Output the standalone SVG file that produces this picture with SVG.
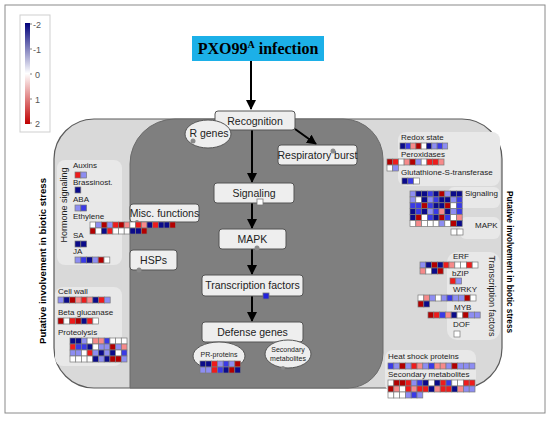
<svg xmlns="http://www.w3.org/2000/svg" width="550" height="422" viewBox="0 0 550 422">
<style>
text{font-family:"Liberation Sans",Arial,sans-serif;fill:#222}
.nd{fill:#eeeeee;stroke:#555;stroke-width:1}
.nt{font-size:10.5px;text-anchor:middle}
.sm{font-size:8px}
.sub{fill:#e8e8e8}
.c{stroke:#7a7a7a;stroke-width:0.7}
.n{fill:#0b0b8a}.b{fill:#3a3ae6}.l{fill:#8d8df2}.w{fill:#ffffff}.p{fill:#f78a8a}.r{fill:#ee1c1c}.d{fill:#b30000}
.dot{fill:#8a8a8a}
.ar{stroke:#000;stroke-width:2;fill:none;marker-end:url(#ah)}
.vt{font-size:9.5px;font-weight:bold;text-anchor:middle;fill:#000}
</style>
<defs>
<marker id="ah" viewBox="0 0 10 10" refX="9" refY="5" markerWidth="5" markerHeight="5" orient="auto" markerUnits="strokeWidth">
<path d="M0,0 L10,5 L0,10 Z" fill="#000"/>
</marker>
<linearGradient id="lg" x1="0" y1="0" x2="0" y2="1">
<stop offset="0" stop-color="#00007a"/>
<stop offset="0.5" stop-color="#ffffff"/>
<stop offset="1" stop-color="#c00000"/>
</linearGradient>
</defs>
<rect x="0" y="0" width="550" height="422" fill="#fff"/>
<rect x="5" y="5" width="540" height="408" fill="#fff" stroke="#8a8a8a" stroke-width="1"/>

<g id="legend">
<rect x="20" y="15" width="30" height="117" fill="#fff" stroke="#cfcfcf"/>
<rect x="25" y="23" width="5" height="101" fill="url(#lg)"/>
<g stroke="#666" stroke-width="0.8"><line x1="30" y1="24" x2="32" y2="24"/><line x1="30" y1="49" x2="32" y2="49"/><line x1="30" y1="74" x2="32" y2="74"/><line x1="30" y1="99" x2="32" y2="99"/><line x1="30" y1="123" x2="32" y2="123"/></g>
<g font-size="9" style="fill:#555"><text x="33" y="28" style="fill:#555">-2</text><text x="33" y="53" style="fill:#555">-1</text><text x="35" y="78" style="fill:#555">0</text><text x="35" y="103" style="fill:#555">1</text><text x="35" y="127" style="fill:#555">2</text></g>
</g>

<g id="title">
<rect x="192" y="36" width="132" height="25" fill="#1cb0e8"/>
<text x="258" y="54" text-anchor="middle" style="font-family:'Liberation Serif','Times New Roman',serif;font-weight:bold;font-size:16px;fill:#000">PXO99<tspan font-size="10" dy="-6">A</tspan><tspan dy="6"> infection</tspan></text>
</g>

<g id="panels">
<rect x="54" y="119" width="448" height="269" rx="40" fill="#d9d9d9" stroke="#5a5a5a" stroke-width="1.2"/>
<path d="M130,388 V164 A45,45 0 0 1 175,119 H343 A40,40 0 0 1 383,159 V353 A35,35 0 0 1 348,388 Z" fill="#7f7f7f" stroke="#6a6a6a"/>
<rect class="sub" x="57" y="160" width="65" height="105" rx="8"/>
<rect class="sub" x="55" y="287" width="67" height="79" rx="8"/>
<rect class="sub" x="398" y="132" width="102" height="54" rx="8"/>
<rect class="sub" x="448" y="187" width="52" height="21" rx="6"/>
<rect class="sub" x="460" y="217" width="40" height="22" rx="6"/>
<rect class="sub" x="447" y="252" width="53" height="88" rx="10"/>
<rect class="sub" x="385" y="350" width="91" height="42" rx="8"/>
</g>

<g id="side-labels">
<text class="vt" transform="translate(46,261) rotate(-90)" textLength="166" lengthAdjust="spacingAndGlyphs">Putative involvement in biotic stress</text>
<text class="vt" transform="translate(507,262) rotate(90)" textLength="142" lengthAdjust="spacingAndGlyphs">Putative involvement in biotic stress</text>
<text font-size="9" text-anchor="middle" transform="translate(67,205) rotate(-90)">Hormone signaling</text>
<text font-size="9" text-anchor="middle" transform="translate(489,296) rotate(90)">Transcription factors</text>
</g>

<g id="connectors">
<line class="ar" x1="251" y1="61" x2="251" y2="109"/>
<line class="ar" x1="252" y1="130" x2="252" y2="182"/>
<line class="ar" x1="295" y1="129" x2="316" y2="144"/>
<line class="ar" x1="252" y1="203" x2="252" y2="228"/>
<line class="ar" x1="252" y1="249" x2="252" y2="274"/>
<line class="ar" x1="252" y1="296" x2="252" y2="321"/>
</g>

<g id="recognition"><rect class="nd" x="215" y="111" width="80" height="19" rx="3"/><text class="nt" x="255" y="124.5">Recognition</text></g>
<g id="r-genes"><ellipse cx="208" cy="134" rx="23" ry="14" fill="#eeeeee" stroke="#555"/><text class="nt" x="209" y="137">R genes</text><circle class="dot" cx="193" cy="141" r="2.5"/></g>
<g id="respiratory-burst"><rect class="nd" x="278" y="145" width="79" height="20" rx="3"/><text class="nt" x="317.5" y="159">Respiratory burst</text><circle class="dot" cx="333" cy="151" r="2.5"/></g>
<g id="signaling"><rect class="nd" x="214" y="183" width="80" height="20" rx="3"/><text class="nt" x="254" y="197">Signaling</text><rect x="257" y="199" width="6" height="6" fill="#fff" stroke="#777" stroke-width="0.8"/></g>
<g id="mapk"><rect class="nd" x="219" y="229" width="67" height="20" rx="3"/><text class="nt" x="252.5" y="243">MAPK</text><circle class="dot" cx="257" cy="248" r="2.5"/></g>
<g id="transcription-factors"><rect class="nd" x="202" y="275" width="101" height="21" rx="3"/><text class="nt" x="252.5" y="289">Transcription factors</text><rect x="263" y="293" width="6" height="6" fill="#2222dd" stroke="#777" stroke-width="0.8"/></g>
<g id="defense-genes"><rect class="nd" x="202" y="322" width="101" height="20" rx="3"/><text class="nt" x="252.5" y="336">Defense genes</text></g>
<g id="pr-proteins"><ellipse cx="219" cy="356" rx="26" ry="14" fill="#eeeeee" stroke="#555"/><text x="219" y="357" font-size="7" text-anchor="middle">PR-proteins</text>
<g transform="translate(200,361)" class="c"><rect class="n" x="0" y="0" width="5.8" height="6"/><rect class="n" x="5.8" y="0" width="5.8" height="6"/><rect class="r" x="11.6" y="0" width="5.8" height="6"/><rect class="l" x="17.4" y="0" width="5.8" height="6"/><rect class="b" x="23.2" y="0" width="5.8" height="6"/><rect class="l" x="29" y="0" width="5.8" height="6"/><rect class="d" x="34.8" y="0" width="5.8" height="6"/>
<rect class="l" x="0" y="6" width="5.8" height="6"/><rect class="l" x="5.8" y="6" width="5.8" height="6"/><rect class="r" x="11.6" y="6" width="5.8" height="6"/><rect class="b" x="17.4" y="6" width="5.8" height="6"/><rect class="n" x="23.2" y="6" width="5.8" height="6"/><rect class="d" x="29" y="6" width="5.8" height="6"/><rect class="n" x="34.8" y="6" width="5.8" height="6"/></g></g>
<g id="secondary-metabolites-node"><ellipse cx="288" cy="354" rx="23" ry="14" fill="#eeeeee" stroke="#555"/><text x="288" y="352" font-size="7" text-anchor="middle">Secondary</text><text x="288" y="361" font-size="7" text-anchor="middle">metabolites</text><circle class="dot" cx="283" cy="368" r="2"/></g>
<g id="misc-functions"><rect class="nd" x="130" y="204" width="69" height="18" rx="3"/><text class="nt" x="164.5" y="217">Misc. functions</text><circle class="dot" cx="137" cy="222" r="2"/></g>
<g id="hsps"><rect class="nd" x="130" y="250" width="47" height="20" rx="3"/><text class="nt" x="153.5" y="264">HSPs</text><circle class="dot" cx="139" cy="270" r="2.5"/></g>

<g id="hormone-signaling">
<text class="sm" x="73" y="168">Auxins</text>
<g transform="translate(75,172)" class="c"><rect class="r" x="0" y="0" width="5.8" height="6"/><rect class="l" x="5.8" y="0" width="5.8" height="6"/></g>
<text class="sm" x="73" y="185">Brassinost.</text>
<g transform="translate(75,187)" class="c"><rect class="n" x="0" y="0" width="5.8" height="6"/></g>
<text class="sm" x="73" y="202">ABA</text>
<g transform="translate(75,205)" class="c"><rect class="l" x="0" y="0" width="5.8" height="6"/><rect class="b" x="5.8" y="0" width="5.8" height="6"/></g>
<text class="sm" x="73" y="219">Ethylene</text>
<text class="sm" x="73" y="238">SA</text>
<g transform="translate(75,241)" class="c"><rect class="n" x="0" y="0" width="5.8" height="6"/><rect class="n" x="5.8" y="0" width="5.8" height="6"/></g>
<text class="sm" x="73" y="254">JA</text>
<g transform="translate(75,257)" class="c"><rect class="l" x="0" y="0" width="5.8" height="6"/><rect class="b" x="5.8" y="0" width="5.8" height="6"/><rect class="n" x="11.6" y="0" width="5.8" height="6"/><rect class="l" x="17.4" y="0" width="5.8" height="6"/><rect class="d" x="23.2" y="0" width="5.8" height="6"/><rect class="w" x="29" y="0" width="5.8" height="6"/></g>
<g transform="translate(90,222)" class="c"><rect class="w" x="0" y="0" width="5.7" height="6"/><rect class="l" x="5.7" y="0" width="5.7" height="6"/><rect class="d" x="11.4" y="0" width="5.7" height="6"/><rect class="l" x="17.1" y="0" width="5.7" height="6"/><rect class="r" x="22.8" y="0" width="5.7" height="6"/><rect class="d" x="28.5" y="0" width="5.7" height="6"/><rect class="p" x="34.2" y="0" width="5.7" height="6"/><rect class="w" x="39.9" y="0" width="5.7" height="6"/><rect class="r" x="45.6" y="0" width="5.7" height="6"/><rect class="p" x="51.3" y="0" width="5.7" height="6"/><rect class="n" x="57" y="0" width="5.7" height="6"/><rect class="r" x="62.7" y="0" width="5.7" height="6"/><rect class="n" x="68.4" y="0" width="5.7" height="6"/><rect class="n" x="74.1" y="0" width="5.7" height="6"/><rect class="d" x="79.8" y="0" width="5.7" height="6"/>
<rect class="d" x="0" y="6" width="5.7" height="6"/><rect class="w" x="5.7" y="6" width="5.7" height="6"/><rect class="n" x="11.4" y="6" width="5.7" height="6"/><rect class="r" x="17.1" y="6" width="5.7" height="6"/><rect class="w" x="22.8" y="6" width="5.7" height="6"/><rect class="w" x="28.5" y="6" width="5.7" height="6"/><rect class="w" x="34.2" y="6" width="5.7" height="6"/><rect class="n" x="39.9" y="6" width="5.7" height="6"/><rect class="n" x="45.6" y="6" width="5.7" height="6"/><rect class="d" x="51.3" y="6" width="5.7" height="6"/></g>
</g>

<g id="cell-wall">
<text class="sm" x="58" y="294">Cell wall</text>
<g transform="translate(58,297)" class="c"><rect class="l" x="0" y="0" width="5.8" height="6"/><rect class="n" x="5.8" y="0" width="5.8" height="6"/><rect class="d" x="11.6" y="0" width="5.8" height="6"/><rect class="p" x="17.4" y="0" width="5.8" height="6"/><rect class="r" x="23.2" y="0" width="5.8" height="6"/><rect class="p" x="29" y="0" width="5.8" height="6"/><rect class="n" x="34.8" y="0" width="5.8" height="6"/><rect class="r" x="40.6" y="0" width="5.8" height="6"/><rect class="l" x="46.4" y="0" width="5.8" height="6"/></g>
<text class="sm" x="58" y="315">Beta glucanase</text>
<g transform="translate(58,318)" class="c"><rect class="d" x="0" y="0" width="5.8" height="6"/><rect class="w" x="5.8" y="0" width="5.8" height="6"/><rect class="r" x="11.6" y="0" width="5.8" height="6"/><rect class="d" x="17.4" y="0" width="5.8" height="6"/><rect class="n" x="23.2" y="0" width="5.8" height="6"/><rect class="r" x="29" y="0" width="5.8" height="6"/><rect class="w" x="34.8" y="0" width="5.8" height="6"/></g>
<text class="sm" x="58" y="335">Proteolysis</text>
<g transform="translate(70,338)" class="c">
<rect class="n" x="0" y="0" width="5.7" height="6"/><rect class="n" x="5.7" y="0" width="5.7" height="6"/><rect class="l" x="11.4" y="0" width="5.7" height="6"/><rect class="w" x="17.1" y="0" width="5.7" height="6"/><rect class="p" x="22.8" y="0" width="5.7" height="6"/><rect class="p" x="28.5" y="0" width="5.7" height="6"/><rect class="b" x="34.2" y="0" width="5.7" height="6"/><rect class="w" x="39.9" y="0" width="5.7" height="6"/><rect class="w" x="45.6" y="0" width="5.7" height="6"/><rect class="w" x="51.3" y="0" width="5.7" height="6"/>
<rect class="r" x="0" y="6" width="5.7" height="6"/><rect class="b" x="5.7" y="6" width="5.7" height="6"/><rect class="b" x="11.4" y="6" width="5.7" height="6"/><rect class="n" x="17.1" y="6" width="5.7" height="6"/><rect class="w" x="22.8" y="6" width="5.7" height="6"/><rect class="l" x="28.5" y="6" width="5.7" height="6"/><rect class="l" x="34.2" y="6" width="5.7" height="6"/><rect class="d" x="39.9" y="6" width="5.7" height="6"/><rect class="l" x="45.6" y="6" width="5.7" height="6"/><rect class="p" x="51.3" y="6" width="5.7" height="6"/>
<rect class="l" x="0" y="12" width="5.7" height="6"/><rect class="l" x="5.7" y="12" width="5.7" height="6"/><rect class="w" x="11.4" y="12" width="5.7" height="6"/><rect class="r" x="17.1" y="12" width="5.7" height="6"/><rect class="l" x="22.8" y="12" width="5.7" height="6"/><rect class="n" x="28.5" y="12" width="5.7" height="6"/><rect class="l" x="34.2" y="12" width="5.7" height="6"/><rect class="n" x="39.9" y="12" width="5.7" height="6"/><rect class="w" x="45.6" y="12" width="5.7" height="6"/><rect class="b" x="51.3" y="12" width="5.7" height="6"/>
<rect class="w" x="0" y="18" width="5.7" height="6"/><rect class="w" x="5.7" y="18" width="5.7" height="6"/><rect class="w" x="11.4" y="18" width="5.7" height="6"/><rect class="w" x="17.1" y="18" width="5.7" height="6"/><rect class="n" x="22.8" y="18" width="5.7" height="6"/><rect class="l" x="28.5" y="18" width="5.7" height="6"/><rect class="n" x="34.2" y="18" width="5.7" height="6"/><rect class="d" x="39.9" y="18" width="5.7" height="6"/><rect class="d" x="45.6" y="18" width="5.7" height="6"/><rect class="l" x="51.3" y="18" width="5.7" height="6"/>
</g>
</g>

<g id="redox-state">
<text class="sm" x="401" y="140">Redox state</text>
<g transform="translate(400,143)" class="c"><rect class="n" x="0" y="0" width="5.3" height="6"/><rect class="b" x="5.3" y="0" width="5.3" height="6"/><rect class="p" x="10.6" y="0" width="5.3" height="6"/><rect class="d" x="15.9" y="0" width="5.3" height="6"/><rect class="w" x="21.2" y="0" width="5.3" height="6"/><rect class="n" x="26.5" y="0" width="5.3" height="6"/><rect class="l" x="31.8" y="0" width="5.3" height="6"/><rect class="b" x="37.1" y="0" width="5.3" height="6"/><rect class="l" x="42.4" y="0" width="5.3" height="6"/></g>
<text class="sm" x="401" y="157">Peroxidases</text>
<g transform="translate(387,159)" class="c"><rect class="d" x="0" y="0" width="5.7" height="6"/><rect class="r" x="5.7" y="0" width="5.7" height="6"/><rect class="w" x="11.4" y="0" width="5.7" height="6"/><rect class="p" x="17.1" y="0" width="5.7" height="6"/><rect class="d" x="22.8" y="0" width="5.7" height="6"/><rect class="l" x="28.5" y="0" width="5.7" height="6"/><rect class="w" x="34.2" y="0" width="5.7" height="6"/><rect class="r" x="39.9" y="0" width="5.7" height="6"/><rect class="r" x="45.6" y="0" width="5.7" height="6"/><rect class="p" x="51.3" y="0" width="5.7" height="6"/>
<rect class="w" x="0" y="6" width="5.7" height="6"/><rect class="l" x="5.7" y="6" width="5.7" height="6"/></g>
<text class="sm" x="401" y="175">Glutathione-S-transferase</text>
<g transform="translate(402,178)" class="c"><rect class="n" x="0" y="0" width="5.8" height="6"/><rect class="b" x="5.8" y="0" width="5.8" height="6"/><rect class="w" x="11.6" y="0" width="5.8" height="6"/></g>
</g>

<g id="signaling-mapk">
<text class="sm" x="465" y="196">Signaling</text>
<text class="sm" x="475" y="228">MAPK</text>
<g transform="translate(410,191)" class="c">
<rect class="l" x="0" y="0" width="5.8" height="5.9"/><rect class="n" x="5.8" y="0" width="5.8" height="5.9"/><rect class="n" x="11.6" y="0" width="5.8" height="5.9"/><rect class="b" x="17.4" y="0" width="5.8" height="5.9"/><rect class="n" x="23.2" y="0" width="5.8" height="5.9"/><rect class="d" x="29" y="0" width="5.8" height="5.9"/><rect class="l" x="34.8" y="0" width="5.8" height="5.9"/><rect class="n" x="40.6" y="0" width="5.8" height="5.9"/><rect class="n" x="46.4" y="0" width="5.8" height="5.9"/>
<rect class="l" x="0" y="5.9" width="5.8" height="5.9"/><rect class="w" x="5.8" y="5.9" width="5.8" height="5.9"/><rect class="n" x="11.6" y="5.9" width="5.8" height="5.9"/><rect class="l" x="17.4" y="5.9" width="5.8" height="5.9"/><rect class="b" x="23.2" y="5.9" width="5.8" height="5.9"/><rect class="n" x="29" y="5.9" width="5.8" height="5.9"/><rect class="n" x="34.8" y="5.9" width="5.8" height="5.9"/><rect class="l" x="40.6" y="5.9" width="5.8" height="5.9"/><rect class="b" x="46.4" y="5.9" width="5.8" height="5.9"/>
<rect class="b" x="0" y="11.8" width="5.8" height="5.9"/><rect class="b" x="5.8" y="11.8" width="5.8" height="5.9"/><rect class="d" x="11.6" y="11.8" width="5.8" height="5.9"/><rect class="b" x="17.4" y="11.8" width="5.8" height="5.9"/><rect class="n" x="23.2" y="11.8" width="5.8" height="5.9"/><rect class="n" x="29" y="11.8" width="5.8" height="5.9"/><rect class="d" x="34.8" y="11.8" width="5.8" height="5.9"/><rect class="w" x="40.6" y="11.8" width="5.8" height="5.9"/><rect class="b" x="46.4" y="11.8" width="5.8" height="5.9"/>
<rect class="n" x="0" y="17.7" width="5.8" height="5.9"/><rect class="b" x="5.8" y="17.7" width="5.8" height="5.9"/><rect class="n" x="11.6" y="17.7" width="5.8" height="5.9"/><rect class="l" x="17.4" y="17.7" width="5.8" height="5.9"/><rect class="b" x="23.2" y="17.7" width="5.8" height="5.9"/><rect class="p" x="29" y="17.7" width="5.8" height="5.9"/><rect class="n" x="34.8" y="17.7" width="5.8" height="5.9"/><rect class="l" x="40.6" y="17.7" width="5.8" height="5.9"/><rect class="b" x="46.4" y="17.7" width="5.8" height="5.9"/>
<rect class="n" x="0" y="23.6" width="5.8" height="5.9"/><rect class="d" x="5.8" y="23.6" width="5.8" height="5.9"/><rect class="w" x="11.6" y="23.6" width="5.8" height="5.9"/><rect class="b" x="17.4" y="23.6" width="5.8" height="5.9"/><rect class="n" x="23.2" y="23.6" width="5.8" height="5.9"/><rect class="d" x="29" y="23.6" width="5.8" height="5.9"/><rect class="b" x="34.8" y="23.6" width="5.8" height="5.9"/><rect class="w" x="40.6" y="23.6" width="5.8" height="5.9"/><rect class="p" x="46.4" y="23.6" width="5.8" height="5.9"/>
<rect class="w" x="0" y="29.5" width="5.8" height="5.9"/><rect class="p" x="5.8" y="29.5" width="5.8" height="5.9"/><rect class="w" x="11.6" y="29.5" width="5.8" height="5.9"/><rect class="w" x="17.4" y="29.5" width="5.8" height="5.9"/><rect class="w" x="23.2" y="29.5" width="5.8" height="5.9"/><rect class="l" x="29" y="29.5" width="5.8" height="5.9"/><rect class="w" x="34.8" y="29.5" width="5.8" height="5.9"/><rect class="d" x="40.6" y="29.5" width="5.8" height="5.9"/><rect class="n" x="46.4" y="29.5" width="5.8" height="5.9"/>
</g>
<g transform="translate(451,229)" class="c"><rect class="w" x="0" y="0" width="6" height="6"/><rect class="w" x="6" y="0" width="6" height="6"/></g>
</g>

<g id="transcription-factors-panel">
<text class="sm" x="453" y="259">ERF</text>
<g transform="translate(420,262)" class="c"><rect class="l" x="0" y="0" width="5.8" height="6"/><rect class="n" x="5.8" y="0" width="5.8" height="6"/><rect class="d" x="11.6" y="0" width="5.8" height="6"/><rect class="n" x="17.4" y="0" width="5.8" height="6"/><rect class="r" x="23.2" y="0" width="5.8" height="6"/><rect class="p" x="29" y="0" width="5.8" height="6"/><rect class="w" x="34.8" y="0" width="5.8" height="6"/><rect class="w" x="40.6" y="0" width="5.8" height="6"/><rect class="r" x="46.4" y="0" width="5.8" height="6"/><rect class="w" x="52.2" y="0" width="5.8" height="6"/>
<rect class="p" x="0" y="6" width="5.8" height="6"/><rect class="w" x="5.8" y="6" width="5.8" height="6"/><rect class="n" x="11.6" y="6" width="5.8" height="6"/><rect class="d" x="17.4" y="6" width="5.8" height="6"/></g>
<text class="sm" x="452" y="276">bZIP</text>
<g transform="translate(450,278)" class="c"><rect class="r" x="0" y="0" width="5.8" height="6"/><rect class="l" x="5.8" y="0" width="5.8" height="6"/></g>
<text class="sm" x="453" y="292">WRKY</text>
<g transform="translate(418,295)" class="c"><rect class="w" x="0" y="0" width="5.8" height="6"/><rect class="p" x="5.8" y="0" width="5.8" height="6"/><rect class="l" x="11.6" y="0" width="5.8" height="6"/><rect class="w" x="17.4" y="0" width="5.8" height="6"/><rect class="l" x="23.2" y="0" width="5.8" height="6"/><rect class="b" x="29" y="0" width="5.8" height="6"/><rect class="l" x="34.8" y="0" width="5.8" height="6"/><rect class="l" x="40.6" y="0" width="5.8" height="6"/><rect class="d" x="46.4" y="0" width="5.8" height="6"/><rect class="w" x="52.2" y="0" width="5.8" height="6"/>
<rect class="d" x="0" y="6" width="5.8" height="6"/><rect class="n" x="5.8" y="6" width="5.8" height="6"/></g>
<text class="sm" x="454" y="310">MYB</text>
<g transform="translate(428,312)" class="c"><rect class="d" x="0" y="0" width="5.8" height="6"/><rect class="r" x="5.8" y="0" width="5.8" height="6"/><rect class="b" x="11.6" y="0" width="5.8" height="6"/><rect class="p" x="17.4" y="0" width="5.8" height="6"/><rect class="n" x="23.2" y="0" width="5.8" height="6"/><rect class="w" x="29" y="0" width="5.8" height="6"/><rect class="d" x="34.8" y="0" width="5.8" height="6"/><rect class="l" x="40.6" y="0" width="5.8" height="6"/><rect class="l" x="46.4" y="0" width="5.8" height="6"/></g>
<text class="sm" x="453" y="327">DOF</text>
<g transform="translate(454,331)" class="c"><rect class="w" x="0" y="0" width="6" height="6"/></g>
</g>

<g id="heat-shock-secondary">
<text class="sm" x="388" y="359">Heat shock proteins</text>
<g transform="translate(388,363)" class="c"><rect class="b" x="0" y="0" width="5.8" height="6"/><rect class="l" x="5.8" y="0" width="5.8" height="6"/><rect class="d" x="11.6" y="0" width="5.8" height="6"/><rect class="l" x="17.4" y="0" width="5.8" height="6"/><rect class="r" x="23.2" y="0" width="5.8" height="6"/><rect class="p" x="29" y="0" width="5.8" height="6"/><rect class="l" x="34.8" y="0" width="5.8" height="6"/><rect class="b" x="40.6" y="0" width="5.8" height="6"/><rect class="p" x="46.4" y="0" width="5.8" height="6"/><rect class="p" x="52.2" y="0" width="5.8" height="6"/><rect class="l" x="58" y="0" width="5.8" height="6"/><rect class="d" x="63.8" y="0" width="5.8" height="6"/><rect class="l" x="69.6" y="0" width="5.8" height="6"/><rect class="l" x="75.4" y="0" width="5.8" height="6"/><rect class="l" x="81.2" y="0" width="5.8" height="6"/></g>
<text class="sm" x="388" y="377">Secondary metabolites</text>
<g transform="translate(388,380)" class="c">
<rect class="w" x="0" y="0" width="5.8" height="6"/><rect class="d" x="5.8" y="0" width="5.8" height="6"/><rect class="d" x="11.6" y="0" width="5.8" height="6"/><rect class="r" x="17.4" y="0" width="5.8" height="6"/><rect class="l" x="23.2" y="0" width="5.8" height="6"/><rect class="b" x="29" y="0" width="5.8" height="6"/><rect class="n" x="34.8" y="0" width="5.8" height="6"/><rect class="w" x="40.6" y="0" width="5.8" height="6"/><rect class="n" x="46.4" y="0" width="5.8" height="6"/><rect class="r" x="52.2" y="0" width="5.8" height="6"/><rect class="b" x="58" y="0" width="5.8" height="6"/><rect class="w" x="63.8" y="0" width="5.8" height="6"/><rect class="w" x="69.6" y="0" width="5.8" height="6"/><rect class="r" x="75.4" y="0" width="5.8" height="6"/><rect class="r" x="81.2" y="0" width="5.8" height="6"/>
<rect class="d" x="0" y="6" width="5.8" height="6"/><rect class="p" x="5.8" y="6" width="5.8" height="6"/><rect class="w" x="11.6" y="6" width="5.8" height="6"/><rect class="r" x="17.4" y="6" width="5.8" height="6"/><rect class="p" x="23.2" y="6" width="5.8" height="6"/><rect class="r" x="29" y="6" width="5.8" height="6"/><rect class="r" x="34.8" y="6" width="5.8" height="6"/><rect class="n" x="40.6" y="6" width="5.8" height="6"/><rect class="p" x="46.4" y="6" width="5.8" height="6"/><rect class="r" x="52.2" y="6" width="5.8" height="6"/><rect class="r" x="58" y="6" width="5.8" height="6"/><rect class="n" x="63.8" y="6" width="5.8" height="6"/><rect class="p" x="69.6" y="6" width="5.8" height="6"/><rect class="l" x="75.4" y="6" width="5.8" height="6"/><rect class="l" x="81.2" y="6" width="5.8" height="6"/>
<rect class="w" x="0" y="12" width="5.8" height="6"/><rect class="w" x="5.8" y="12" width="5.8" height="6"/><rect class="w" x="11.6" y="12" width="5.8" height="6"/><rect class="l" x="17.4" y="12" width="5.8" height="6"/><rect class="b" x="23.2" y="12" width="5.8" height="6"/><rect class="l" x="29" y="12" width="5.8" height="6"/>
</g>
</g>
</svg>
